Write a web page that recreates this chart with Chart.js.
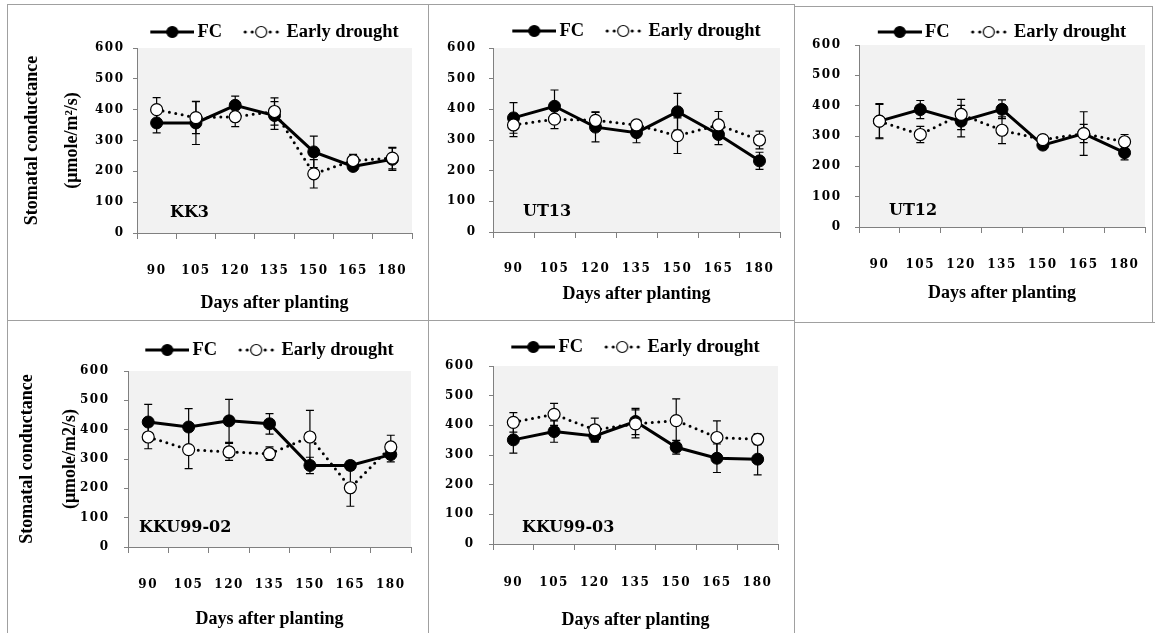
<!DOCTYPE html>
<html>
<head>
<meta charset="utf-8">
<script src="https://cdn.jsdelivr.net/npm/chart.js@4.4.1/dist/chart.umd.min.js"></script>
<style>
  body { margin: 0; background: #fff; }
  #page { position: relative; width: 1155px; height: 633px; overflow: hidden; background: #fff; }
  canvas { position: absolute; }
  .ln { position: absolute; background: #a0a0a0; z-index: 2; }
</style>
</head>
<body>
<div id="page">
  <div class="ln" style="left:7px;top:4px;width:787px;height:1px"></div>
  <div class="ln" style="left:794px;top:6px;width:358px;height:1px"></div>
  <div class="ln" style="left:7px;top:4px;width:1px;height:629px"></div>
  <div class="ln" style="left:428px;top:4px;width:1px;height:629px"></div>
  <div class="ln" style="left:794px;top:4px;width:1px;height:629px"></div>
  <div class="ln" style="left:1152px;top:6px;width:1px;height:316px"></div>
  <div class="ln" style="left:7px;top:320px;width:787px;height:1px"></div>
  <div class="ln" style="left:794px;top:322px;width:361px;height:1px"></div>
</div>
<script>
// categories and tick labels
const days = ['90', '105', '120', '135', '150', '165', '180'];
const yTicks = [0, 100, 200, 300, 400, 500, 600];

// KK3
const kk3Fc = [357, 357, 414, 381, 263, 216, 239];
const kk3FcErr = [32, 70, 30, 45, 51, 10, 36];
const kk3Ed = [400, 374, 377, 394, 192, 235, 243];
const kk3EdErr = [39, 52, 32, 44, 46, 20, 35];

// UT13
const ut13Fc = [372, 410, 342, 324, 392, 318, 232];
const ut13FcErr = [50, 53, 48, 33, 60, 33, 28];
const ut13Ed = [349, 368, 364, 349, 314, 349, 300];
const ut13EdErr = [38, 31, 28, 8, 58, 44, 29];

// UT12
const ut12Fc = [349, 387, 349, 388, 270, 308, 245];
const ut12FcErr = [55, 30, 52, 31, 10, 30, 24];
const ut12Ed = [349, 305, 371, 319, 288, 308, 281];
const ut12EdErr = [58, 27, 50, 44, 8, 72, 24];

// KKU99-02
const kku02Fc = [426, 409, 430, 420, 278, 278, 315];
const kku02FcErr = [60, 63, 73, 35, 28, 15, 25];
const kku02Ed = [375, 332, 324, 318, 375, 202, 341];
const kku02EdErr = [40, 65, 29, 23, 91, 63, 40];

// KKU99-03
const kku03Fc = [351, 379, 364, 413, 326, 289, 286];
const kku03FcErr = [45, 36, 21, 44, 23, 48, 53];
const kku03Ed = [410, 437, 385, 405, 416, 359, 353];
const kku03EdErr = [33, 37, 39, 47, 73, 56, 18];

// panel placement on the page (pixels)
const panels = [
  { name: 'KK3', fc: kk3Fc, fcErr: kk3FcErr, ed: kk3Ed, edErr: kk3EdErr,
    yTitle: ['Stomatal conductance', '(μmole/m²/s)'], yTitleX: [32, 72],
    box: [0, 4, 428, 316], plot: [137, 412, 48, 233],
    legendY: 32, xTickY: 271, xTitleY: 303, yTickR: 123, tag: [33, 20] },
  { name: 'UT13', fc: ut13Fc, fcErr: ut13FcErr, ed: ut13Ed, edErr: ut13EdErr,
    box: [429, 5, 365, 315], plot: [493, 780, 48, 232],
    legendY: 31, xTickY: 269, xTitleY: 294, yTickR: 475, tag: [30, 20] },
  { name: 'UT12', fc: ut12Fc, fcErr: ut12FcErr, ed: ut12Ed, edErr: ut12EdErr,
    box: [795, 6, 358, 316], plot: [859, 1145, 45, 227],
    legendY: 32, xTickY: 265, xTitleY: 293, yTickR: 840, tag: [30, 16] },
  { name: 'KKU99-02', fc: kku02Fc, fcErr: kku02FcErr, ed: kku02Ed, edErr: kku02EdErr,
    yTitle: ['Stomatal conductance', '(μmole/m2/s)'], yTitleX: [27, 70],
    box: [0, 321, 428, 312], plot: [128, 411, 371, 547],
    legendY: 350, xTickY: 585, xTitleY: 619, yTickR: 108, tag: [11, 19] },
  { name: 'KKU99-03', fc: kku03Fc, fcErr: kku03FcErr, ed: kku03Ed, edErr: kku03EdErr,
    box: [429, 321, 365, 312], plot: [493, 778, 366, 544],
    legendY: 347, xTickY: 583, xTitleY: 620, yTickR: 473, tag: [29, 16] }
];

Chart.defaults.font.family = 'Liberation Serif';
Chart.defaults.color = '#000';

// legend samples: line with marker
function sample(filled) {
  const c = document.createElement('canvas');
  c.width = 50; c.height = 14;
  const g = c.getContext('2d');
  g.fillStyle = '#000';
  if (filled) {
    g.fillRect(6, 5.5, 44, 3);
  } else {
    [12, 19, 37, 44].forEach(x => { g.beginPath(); g.arc(x, 7, 1.6, 0, Math.PI * 2); g.fill(); });
  }
  g.beginPath();
  g.arc(28, 7, 5.5, 0, Math.PI * 2);
  g.fillStyle = filled ? '#000' : '#fff';
  g.fill();
  g.lineWidth = 1.2;
  g.strokeStyle = '#000';
  g.stroke();
  return c;
}
const fcImg = sample(true);
const edImg = sample(false);

const plotBg = {
  id: 'plotBg',
  beforeDraw(chart) {
    const { ctx, chartArea: a } = chart;
    ctx.save();
    ctx.fillStyle = '#f2f2f2';
    ctx.fillRect(a.left, a.top, a.width, a.height);
    ctx.restore();
  }
};

const errorBars = {
  id: 'errorBars',
  beforeDatasetsDraw(chart) {
    const { ctx } = chart;
    const y = chart.scales.y;
    ctx.save();
    ctx.strokeStyle = '#000';
    ctx.lineWidth = 1.2;
    chart.data.datasets.forEach((ds, i) => {
      chart.getDatasetMeta(i).data.forEach((pt, j) => {
        const top = y.getPixelForValue(ds.data[j] + ds.err[j]);
        const bot = y.getPixelForValue(ds.data[j] - ds.err[j]);
        ctx.beginPath();
        ctx.moveTo(pt.x, top); ctx.lineTo(pt.x, bot);
        ctx.moveTo(pt.x - 4, top); ctx.lineTo(pt.x + 4, top);
        ctx.moveTo(pt.x - 4, bot); ctx.lineTo(pt.x + 4, bot);
        ctx.stroke();
      });
    });
    ctx.restore();
  }
};

const variety = {
  id: 'variety',
  beforeDatasetsDraw(chart, args, opts) {
    const { ctx, chartArea: a } = chart;
    ctx.save();
    ctx.font = 'bold 16px "DejaVu Serif"';
    ctx.fillStyle = '#000';
    ctx.textBaseline = 'middle';
    ctx.fillText(opts.text, a.left + opts.dx, a.bottom - opts.dy);
    ctx.restore();
  }
};

// fixed legend height, legend centred over the plot
const legendFit = {
  id: 'legendFit',
  beforeLayout(chart, args, opts) {
    const lg = chart.legend;
    if (lg && !lg.fixedFit) {
      const fit = lg.fit;
      lg.fit = function () { fit.call(this); this.height = opts.height; };
      lg.fixedFit = true;
    }
  },
  afterLayout(chart) {
    const a = chart.chartArea;
    chart.legend.left = a.left - 25;
    chart.legend.right = a.right + 25;
  }
};

// wider tick digits
const tickSpacing = {
  id: 'tickSpacing',
  beforeDraw(chart) {
    Object.values(chart.scales).forEach(s => {
      if (s.spaced) return;
      const draw = s.drawLabels;
      s.drawLabels = function (area) {
        this.ctx.save();
        this.ctx.letterSpacing = '1.5px';
        draw.call(this, area);
        this.ctx.restore();
      };
      s.spaced = true;
    });
  }
};

const tickFont = { family: 'DejaVu Serif', weight: 'bold', size: 12 };

panels.forEach(p => {
  const [cl, ct, cw, chh] = p.box;
  const [pl, pr, pt, pb] = p.plot;
  const canvas = document.createElement('canvas');
  canvas.width = cw; canvas.height = chh;
  canvas.style.left = cl + 'px';
  canvas.style.top = ct + 'px';
  document.getElementById('page').appendChild(canvas);

  const padTop = p.legendY - ct - 17 - 9.25;
  const yGap = p.yTitle ? p.yTitleX[1] - p.yTitleX[0] : 20;

  new Chart(canvas, {
    type: 'line',
    data: {
      labels: days,
      datasets: [
        {
          label: 'FC', data: p.fc, err: p.fcErr, legendImg: fcImg,
          borderColor: '#000', borderWidth: 3, tension: 0,
          pointRadius: 6, pointBackgroundColor: '#000', pointBorderColor: '#000', pointBorderWidth: 1,
          order: 1
        },
        {
          label: 'Early drought', data: p.ed, err: p.edErr, legendImg: edImg,
          borderColor: '#000', borderWidth: 3, borderDash: [0, 6.5], borderCapStyle: 'round', tension: 0,
          pointRadius: 6, pointBackgroundColor: '#fff', pointBorderColor: '#000', pointBorderWidth: 1.2,
          order: 0
        }
      ]
    },
    options: {
      responsive: false,
      animation: false,
      devicePixelRatio: 1,
      events: [],
      layout: { padding: { top: padTop, left: 0, right: cl + cw - pr, bottom: 0 } },
      plugins: {
        tooltip: { enabled: false },
        legend: {
          labels: {
            usePointStyle: true,
            pointStyleWidth: 38,
            padding: 17,
            font: { family: 'Liberation Serif', weight: 'bold', size: 18.5 },
            color: '#000',
            generateLabels: chart => chart.data.datasets.map((ds, i) => ({
              text: ds.label, pointStyle: ds.legendImg, rotation: 0,
              fillStyle: '#000', strokeStyle: '#000', lineWidth: 0,
              hidden: false, datasetIndex: i, fontColor: '#000'
            }))
          }
        },
        legendFit: { height: pt - ct - padTop },
        variety: { text: p.name, dx: p.tag[0], dy: p.tag[1] }
      },
      scales: {
        x: {
          offset: true,
          grid: { offset: true, drawOnChartArea: false, tickLength: 6, color: '#808080' },
          border: { color: '#808080' },
          ticks: {
            padding: 0, autoSkip: false, maxRotation: 0, color: '#000',
            font: Object.assign({ lineHeight: (2 * (p.xTickY - pb - 6)) + 'px' }, tickFont)
          },
          title: {
            display: true, text: 'Days after planting', color: '#000',
            font: { family: 'Liberation Serif', weight: 'bold', size: 18 },
            padding: { top: 0, bottom: ct + chh - p.xTitleY - 10.8 }
          },
          afterFit: s => { s.height = ct + chh - pb; }
        },
        y: {
          min: 0, max: 600,
          afterBuildTicks: s => { s.ticks = yTicks.map(v => ({ value: v })); },
          grid: { drawOnChartArea: false, tickLength: 4, color: '#808080' },
          border: { color: '#808080' },
          ticks: { padding: pl - p.yTickR - 4 - 1.5, color: '#000', font: tickFont },
          title: {
            display: !!p.yTitle, text: p.yTitle || '', color: '#000',
            font: { family: 'Liberation Serif', weight: 'bold', size: 18, lineHeight: yGap + 'px' },
            padding: { top: p.yTitle ? p.yTitleX[0] - cl - yGap / 2 : 0, bottom: 0 }
          },
          afterFit: s => { s.width = pl - cl; }
        }
      }
    },
    plugins: [plotBg, errorBars, variety, legendFit, tickSpacing]
  });
});
</script>
</body>
</html>
